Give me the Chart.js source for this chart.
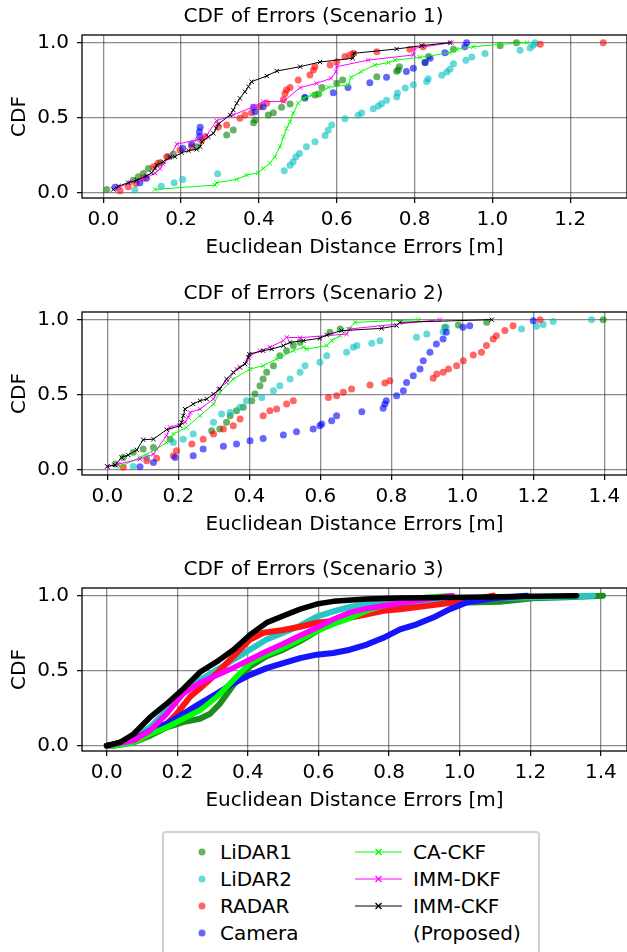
<!DOCTYPE html>
<html>
<head>
<meta charset="utf-8">
<script src="https://cdn.jsdelivr.net/npm/chart.js@4.4.1/dist/chart.umd.min.js"></script>
<style>
  html, body { margin: 0; padding: 0; background: #fff; }
  body { width: 627px; height: 952px; position: relative; overflow: hidden; font-family: "DejaVu Sans", sans-serif; }
  canvas.plot { position: absolute; left: 0; }
  #legend { position: absolute; left: 162px; top: 831px; width: 378px; height: 150px; border: 2px solid #d2d2d2; border-radius: 4px; box-sizing: border-box; }
  .item { position: absolute; font-size: 20px; line-height: 24px; color: #000; white-space: nowrap; }
  .mark { position: absolute; }
</style>
</head>
<body>
<canvas id="c1" class="plot" width="704" height="262" style="top:0px"></canvas>
<canvas id="c2" class="plot" width="704" height="262" style="top:277px"></canvas>
<canvas id="c3" class="plot" width="704" height="262" style="top:553px"></canvas>
<div id="legend"></div>
<script>
const FONT = 'DejaVu Sans';
const titles = ['CDF of Errors (Scenario 1)', 'CDF of Errors (Scenario 2)', 'CDF of Errors (Scenario 3)'];
const xLabel = 'Euclidean Distance Errors [m]';
const yLabel = 'CDF';
const yTicks = [0, 0.5, 1.0];
const xTicks1 = [0, 0.2, 0.4, 0.6, 0.8, 1.0, 1.2];
const xTicks2 = [0, 0.2, 0.4, 0.6, 0.8, 1.0, 1.2, 1.4];
const sensorNames = ['LiDAR1', 'LiDAR2', 'RADAR', 'Camera'];
const filterNames = ['CA-CKF', 'IMM-DKF', 'IMM-CKF'];

// scenario 1  [error, cdf]
const s1Lidar1 = [[0.009,0.022],[0.077,0.084],[0.09,0.107],[0.103,0.129],[0.116,0.162],[0.146,0.2],[0.167,0.24],[0.18,0.258],[0.24,0.307],[0.317,0.384],[0.334,0.418],[0.386,0.467],[0.39,0.484],[0.424,0.518],[0.437,0.533],[0.458,0.569],[0.48,0.591],[0.518,0.629],[0.544,0.651],[0.553,0.658],[0.562,0.702],[0.6,0.729],[0.615,0.751],[0.703,0.773],[0.754,0.809],[0.758,0.818],[0.761,0.84],[0.827,0.867],[0.836,0.907],[0.9,0.956],[1.02,0.98],[1.062,1.0]];
const s1Lidar2 = [[0.081,0.018],[0.149,0.044],[0.182,0.067],[0.204,0.089],[0.294,0.127],[0.465,0.147],[0.48,0.184],[0.488,0.207],[0.495,0.24],[0.504,0.262],[0.522,0.307],[0.544,0.34],[0.57,0.382],[0.578,0.416],[0.587,0.451],[0.621,0.493],[0.655,0.516],[0.664,0.531],[0.694,0.56],[0.707,0.578],[0.715,0.593],[0.728,0.616],[0.754,0.638],[0.756,0.664],[0.776,0.698],[0.797,0.72],[0.831,0.742],[0.835,0.76],[0.87,0.782],[0.883,0.804],[0.891,0.822],[0.9,0.86],[0.932,0.882],[0.947,0.904],[0.981,0.927],[1.071,0.949],[1.097,0.964],[1.105,0.982],[1.11,1.0]];
const s1Radar = [[0.043,0.013],[0.064,0.04],[0.084,0.062],[0.103,0.096],[0.129,0.173],[0.141,0.196],[0.163,0.24],[0.197,0.284],[0.227,0.307],[0.253,0.351],[0.261,0.373],[0.296,0.44],[0.317,0.451],[0.351,0.496],[0.364,0.518],[0.381,0.533],[0.403,0.573],[0.42,0.596],[0.463,0.622],[0.467,0.662],[0.471,0.684],[0.48,0.702],[0.501,0.751],[0.531,0.784],[0.54,0.818],[0.544,0.84],[0.583,0.851],[0.6,0.873],[0.621,0.907],[0.634,0.918],[0.643,0.929],[0.703,0.94],[0.788,0.956],[0.822,0.973],[1.123,0.989],[1.285,1.0]];
const s1Camera = [[0.03,0.036],[0.094,0.067],[0.111,0.096],[0.204,0.296],[0.227,0.324],[0.247,0.373],[0.247,0.407],[0.249,0.436],[0.386,0.569],[0.39,0.54],[0.411,0.573],[0.518,0.636],[0.591,0.667],[0.629,0.702],[0.685,0.733],[0.728,0.769],[0.779,0.807],[0.797,0.829],[0.827,0.867],[0.84,0.896],[0.878,0.933],[0.929,0.973],[0.934,1.0]];
const s1CaCkf = [[0.133,0.022],[0.287,0.051],[0.291,0.067],[0.343,0.089],[0.368,0.118],[0.398,0.133],[0.411,0.162],[0.428,0.196],[0.441,0.24],[0.454,0.307],[0.463,0.373],[0.471,0.429],[0.48,0.473],[0.488,0.529],[0.501,0.596],[0.514,0.629],[0.536,0.651],[0.557,0.662],[0.578,0.702],[0.629,0.718],[0.637,0.769],[0.663,0.807],[0.698,0.851],[0.733,0.867],[0.75,0.884],[0.814,0.902],[0.891,0.933],[0.908,0.956],[0.951,0.973],[1.02,0.989],[1.089,1.0]];
const s1ImmDkf = [[0.035,0.03],[0.069,0.067],[0.111,0.1],[0.133,0.13],[0.146,0.16],[0.154,0.191],[0.171,0.24],[0.189,0.324],[0.24,0.351],[0.266,0.384],[0.291,0.48],[0.334,0.518],[0.386,0.573],[0.411,0.607],[0.463,0.609],[0.506,0.7],[0.548,0.729],[0.585,0.762],[0.598,0.807],[0.6,0.84],[0.681,0.884],[0.797,0.918],[0.799,0.962],[0.895,1.0]];
const s1ImmCkf = [[0.026,0.022],[0.039,0.044],[0.064,0.067],[0.086,0.084],[0.111,0.111],[0.124,0.133],[0.133,0.162],[0.137,0.184],[0.154,0.207],[0.171,0.236],[0.184,0.24],[0.201,0.267],[0.219,0.28],[0.24,0.289],[0.249,0.307],[0.253,0.34],[0.27,0.373],[0.283,0.396],[0.29,0.429],[0.296,0.458],[0.326,0.518],[0.334,0.551],[0.343,0.596],[0.351,0.629],[0.364,0.673],[0.373,0.707],[0.381,0.74],[0.42,0.778],[0.446,0.811],[0.506,0.84],[0.557,0.871],[0.641,0.896],[0.644,0.929],[0.754,0.958],[0.818,0.98],[0.891,1.0]];

// scenario 2
const s2Lidar1 = [[0.022,0.038],[0.045,0.082],[0.073,0.116],[0.101,0.138],[0.13,0.149],[0.177,0.204],[0.294,0.26],[0.317,0.271],[0.336,0.316],[0.346,0.36],[0.364,0.393],[0.383,0.416],[0.407,0.46],[0.416,0.504],[0.43,0.56],[0.439,0.604],[0.449,0.649],[0.468,0.693],[0.486,0.76],[0.505,0.793],[0.524,0.827],[0.543,0.849],[0.627,0.916],[0.656,0.938],[0.951,0.949],[0.989,0.964],[1.069,0.982],[1.397,1.0]];
const s2Lidar2 = [[0.073,0.022],[0.111,0.082],[0.186,0.182],[0.214,0.204],[0.242,0.238],[0.299,0.316],[0.322,0.371],[0.346,0.382],[0.374,0.416],[0.392,0.46],[0.435,0.482],[0.468,0.527],[0.486,0.56],[0.515,0.604],[0.543,0.649],[0.557,0.693],[0.599,0.716],[0.618,0.76],[0.674,0.782],[0.693,0.816],[0.703,0.827],[0.745,0.842],[0.768,0.86],[0.871,0.882],[0.9,0.904],[0.946,0.92],[0.955,0.949],[1.167,0.938],[1.209,0.956],[1.228,0.967],[1.256,0.987],[1.364,1.0]];
const s2Radar = [[0.045,0.016],[0.111,0.06],[0.139,0.076],[0.186,0.093],[0.195,0.127],[0.238,0.171],[0.27,0.204],[0.299,0.238],[0.327,0.271],[0.355,0.293],[0.374,0.338],[0.439,0.36],[0.458,0.393],[0.477,0.404],[0.505,0.438],[0.524,0.46],[0.623,0.482],[0.646,0.493],[0.665,0.516],[0.688,0.538],[0.74,0.564],[0.782,0.578],[0.796,0.593],[0.918,0.609],[0.928,0.638],[0.946,0.649],[0.961,0.671],[0.984,0.693],[1.003,0.727],[1.031,0.764],[1.054,0.782],[1.068,0.827],[1.087,0.871],[1.096,0.893],[1.12,0.927],[1.143,0.96],[1.219,1.0]];
const s2Camera = [[0.092,0.02],[0.13,0.049],[0.191,0.082],[0.242,0.093],[0.27,0.138],[0.327,0.156],[0.364,0.171],[0.402,0.193],[0.439,0.209],[0.496,0.231],[0.533,0.253],[0.58,0.271],[0.599,0.293],[0.604,0.304],[0.632,0.327],[0.646,0.36],[0.717,0.387],[0.777,0.409],[0.782,0.438],[0.786,0.46],[0.815,0.493],[0.834,0.527],[0.843,0.582],[0.862,0.627],[0.881,0.671],[0.89,0.727],[0.909,0.782],[0.927,0.838],[0.946,0.871],[0.955,0.916],[1.002,0.949],[1.021,0.96],[1.2,0.993]];
const s2CaCkf = [[0.035,0.02],[0.092,0.082],[0.139,0.138],[0.167,0.182],[0.186,0.238],[0.223,0.282],[0.261,0.36],[0.299,0.438],[0.317,0.516],[0.355,0.604],[0.402,0.671],[0.439,0.693],[0.477,0.738],[0.524,0.793],[0.552,0.816],[0.562,0.804],[0.618,0.827],[0.632,0.86],[0.656,0.893],[0.679,0.938],[0.698,0.982],[0.876,1.0]];
const s2ImmDkf = [[0.0,0.022],[0.031,0.038],[0.092,0.071],[0.13,0.104],[0.167,0.227],[0.177,0.282],[0.219,0.316],[0.228,0.349],[0.233,0.382],[0.261,0.404],[0.299,0.471],[0.313,0.538],[0.336,0.582],[0.364,0.671],[0.392,0.716],[0.402,0.76],[0.43,0.793],[0.458,0.816],[0.496,0.86],[0.505,0.882],[0.543,0.88],[0.674,0.904],[0.683,0.938],[0.937,1.0]];
const s2ImmCkf = [[0.0,0.022],[0.022,0.031],[0.04,0.082],[0.059,0.098],[0.083,0.133],[0.101,0.2],[0.13,0.204],[0.167,0.267],[0.205,0.293],[0.209,0.316],[0.214,0.36],[0.219,0.404],[0.242,0.438],[0.261,0.46],[0.28,0.471],[0.299,0.504],[0.317,0.538],[0.336,0.604],[0.355,0.649],[0.374,0.682],[0.388,0.704],[0.397,0.749],[0.4,0.771],[0.439,0.793],[0.463,0.804],[0.496,0.827],[0.515,0.849],[0.552,0.86],[0.599,0.876],[0.618,0.898],[0.66,0.927],[0.773,0.942],[0.815,0.96],[0.824,0.982],[1.083,1.0]];

// scenario 3
const s3Lidar1 = [[0.0,0.0],[0.019,0.0],[0.076,0.022],[0.123,0.067],[0.17,0.123],[0.217,0.157],[0.264,0.18],[0.293,0.213],[0.321,0.281],[0.359,0.404],[0.406,0.528],[0.453,0.596],[0.5,0.64],[0.548,0.697],[0.595,0.764],[0.642,0.82],[0.689,0.865],[0.737,0.91],[0.831,0.944],[1.02,0.955],[1.114,0.96],[1.208,0.982],[1.303,0.989],[1.406,1.0]];
const s3Lidar2 = [[0.0,0.0],[0.028,0.011],[0.076,0.056],[0.123,0.123],[0.17,0.236],[0.217,0.348],[0.264,0.438],[0.312,0.506],[0.359,0.573],[0.406,0.64],[0.453,0.708],[0.5,0.753],[0.548,0.8],[0.595,0.86],[0.642,0.895],[0.689,0.925],[0.737,0.944],[0.85,0.96],[1.0,0.975],[1.1,0.985],[1.21,0.99],[1.285,0.993],[1.378,1.0]];
const s3Radar = [[0.0,0.0],[0.009,0.004],[0.076,0.045],[0.17,0.146],[0.198,0.213],[0.236,0.326],[0.264,0.382],[0.312,0.483],[0.359,0.596],[0.406,0.708],[0.444,0.753],[0.5,0.771],[0.548,0.793],[0.595,0.82],[0.642,0.831],[0.737,0.876],[0.784,0.899],[0.831,0.91],[0.925,0.937],[1.02,0.966],[1.095,1.0]];
const s3Camera = [[0.0,0.0],[0.009,0.004],[0.076,0.034],[0.123,0.101],[0.17,0.146],[0.217,0.213],[0.264,0.281],[0.312,0.348],[0.359,0.416],[0.406,0.472],[0.453,0.517],[0.5,0.551],[0.548,0.584],[0.595,0.607],[0.642,0.618],[0.689,0.64],[0.737,0.674],[0.784,0.719],[0.831,0.775],[0.878,0.809],[0.925,0.854],[0.972,0.91],[1.02,0.955],[1.095,0.982],[1.19,1.0]];
const s3CaCkf = [[0.0,0.0],[0.019,0.0],[0.076,0.022],[0.123,0.078],[0.17,0.123],[0.217,0.18],[0.264,0.236],[0.312,0.326],[0.359,0.438],[0.406,0.551],[0.453,0.607],[0.5,0.652],[0.548,0.708],[0.595,0.764],[0.642,0.81],[0.689,0.85],[0.737,0.899],[0.784,0.933],[0.831,0.955],[0.906,0.989],[0.972,1.0]];
const s3ImmDkf = [[0.0,0.0],[0.009,0.004],[0.076,0.034],[0.123,0.101],[0.17,0.213],[0.217,0.348],[0.264,0.42],[0.312,0.47],[0.359,0.52],[0.406,0.575],[0.453,0.63],[0.5,0.68],[0.548,0.735],[0.595,0.786],[0.642,0.843],[0.689,0.888],[0.737,0.915],[0.831,0.951],[0.944,0.989],[0.98,1.0]];
const s3ImmCkf = [[0.0,0.0],[0.038,0.022],[0.076,0.078],[0.123,0.19],[0.17,0.28],[0.217,0.38],[0.264,0.49],[0.312,0.56],[0.359,0.64],[0.406,0.74],[0.453,0.82],[0.5,0.865],[0.548,0.91],[0.595,0.944],[0.642,0.962],[0.737,0.978],[0.831,0.985],[1.02,0.989],[1.208,0.996],[1.331,1.0]];

const dotColors = ['rgba(0,128,0,0.6)', 'rgba(0,191,191,0.6)', 'rgba(255,0,0,0.6)', 'rgba(0,0,255,0.6)'];
const bandColors = ['#1c8c1c', '#26c6c6', '#ff1414', '#1414ff'];
const lineColors = ['#00ff00', '#ff00ff', '#000000'];

function pts(arr) { return arr.map(p => ({ x: p[0], y: p[1] })); }

function dotSet(i, arr) {
    return { label: sensorNames[i], data: pts(arr), showLine: false, backgroundColor: dotColors[i],
        borderWidth: 0, pointRadius: 3.5, pointHoverRadius: 3.5, order: 6 - i };
}
function filterSet(i, arr) {
    return { label: filterNames[i], data: pts(arr), showLine: true, borderColor: lineColors[i],
        backgroundColor: lineColors[i], borderWidth: 1, pointStyle: 'crossRot', pointRadius: 3,
        pointBorderWidth: 1, pointBorderColor: lineColors[i], order: 2 - i };
}
function bandSet(i, arr) {
    return { label: sensorNames[i], data: pts(arr), showLine: true, borderColor: bandColors[i],
        borderWidth: 6, pointRadius: 0, borderCapStyle: 'round', borderJoinStyle: 'round', order: 6 - i };
}
function thickFilterSet(i, arr) {
    return { label: filterNames[i], data: pts(arr), showLine: true, borderColor: lineColors[i],
        borderWidth: 5.5, pointRadius: 0, borderCapStyle: 'round', borderJoinStyle: 'round', order: 2 - i };
}

// axes box; the right spine falls just past the picture edge
const frame = {
    id: 'frame',
    afterDatasetsDraw(chart) {
        const { ctx, chartArea: a } = chart;
        ctx.save();
        ctx.strokeStyle = '#000';
        ctx.lineWidth = 1.3;
        ctx.strokeRect(a.left, a.top, a.right - a.left, a.bottom - a.top);
        ctx.restore();
    }
};

function makeChart(id, title, datasets, xMin, xMax, xTicks) {
    const font = { family: FONT, size: 20 };
    const grid = { color: 'rgba(0,0,0,0.45)', lineWidth: 1.3, tickColor: '#000', tickLength: 5, tickWidth: 1.2 };
    return new Chart(document.getElementById(id), {
        type: 'scatter',
        data: { datasets },
        options: {
            responsive: false,
            animation: false,
            events: [],
            layout: { padding: { left: 0, right: 77, top: 0, bottom: 0 } },
            plugins: {
                legend: { display: false },
                tooltip: { enabled: false },
                title: { display: true, text: title, color: '#000', font: { family: FONT, size: 20, weight: 'normal' },
                    padding: { top: 4.5, bottom: 6.5 } }
            },
            scales: {
                x: {
                    type: 'linear', min: xMin, max: xMax,
                    afterBuildTicks: ax => { ax.ticks = xTicks.map(v => ({ value: v })); },
                    afterFit: s => { s.height = 64; },
                    ticks: { color: '#000', font, padding: 5, maxRotation: 0, autoSkip: false, callback: v => v.toFixed(1) },
                    grid,
                    border: { display: false },
                    title: { display: true, text: xLabel, color: '#000', font, padding: { top: 0, bottom: 2.5 } }
                },
                y: {
                    type: 'linear', min: -0.035, max: 1.051,
                    afterBuildTicks: ax => { ax.ticks = yTicks.map(v => ({ value: v })); },
                    afterFit: s => { s.width = 82; },
                    ticks: { color: '#000', font, padding: 8, callback: v => v.toFixed(1) },
                    grid,
                    border: { display: false },
                    title: { display: true, text: yLabel, color: '#000', font, padding: { top: 8, bottom: 0 } }
                }
            }
        },
        plugins: [frame]
    });
}

makeChart('c1', titles[0], [
    dotSet(0, s1Lidar1), dotSet(1, s1Lidar2), dotSet(2, s1Radar), dotSet(3, s1Camera),
    filterSet(0, s1CaCkf), filterSet(1, s1ImmDkf), filterSet(2, s1ImmCkf)
], -0.0548, 1.346, xTicks1);

makeChart('c2', titles[1], [
    dotSet(0, s2Lidar1), dotSet(1, s2Lidar2), dotSet(2, s2Radar), dotSet(3, s2Camera),
    filterSet(0, s2CaCkf), filterSet(1, s2ImmDkf), filterSet(2, s2ImmCkf)
], -0.0713, 1.464, xTicks2);

makeChart('c3', titles[2], [
    bandSet(0, s3Lidar1), bandSet(1, s3Lidar2), bandSet(2, s3Radar), bandSet(3, s3Camera),
    thickFilterSet(0, s3CaCkf), thickFilterSet(1, s3ImmDkf), thickFilterSet(2, s3ImmCkf)
], -0.07, 1.474, xTicks2);

// legend (two columns)
const rowY = [852, 879, 906, 933];
const body = document.body;
function addText(x, y, text) {
    const d = document.createElement('div');
    d.className = 'item';
    d.style.left = x + 'px';
    d.style.top = (y - 12) + 'px';
    d.textContent = text;
    body.appendChild(d);
}
sensorNames.forEach((name, i) => {
    const m = document.createElementNS('http://www.w3.org/2000/svg', 'svg');
    m.setAttribute('width', 10); m.setAttribute('height', 10);
    m.setAttribute('class', 'mark');
    m.style.left = '197px'; m.style.top = (rowY[i] - 5) + 'px';
    m.innerHTML = '<circle cx="5" cy="5" r="3.5" fill="' + dotColors[i] + '"/>';
    body.appendChild(m);
    addText(220, rowY[i], name);
});
filterNames.forEach((name, i) => {
    const m = document.createElementNS('http://www.w3.org/2000/svg', 'svg');
    m.setAttribute('width', 48); m.setAttribute('height', 10);
    m.setAttribute('class', 'mark');
    m.style.left = '355px'; m.style.top = (rowY[i] - 5) + 'px';
    const c = lineColors[i];
    m.innerHTML = '<line x1="0" y1="5" x2="47" y2="5" stroke="' + c + '" stroke-width="1"/>' +
        '<line x1="20.5" y1="2" x2="26.5" y2="8" stroke="' + c + '" stroke-width="1.2"/>' +
        '<line x1="20.5" y1="8" x2="26.5" y2="2" stroke="' + c + '" stroke-width="1.2"/>';
    body.appendChild(m);
    addText(413, rowY[i], name);
});
addText(413, rowY[3], '(Proposed)');
</script>
</body>
</html>
